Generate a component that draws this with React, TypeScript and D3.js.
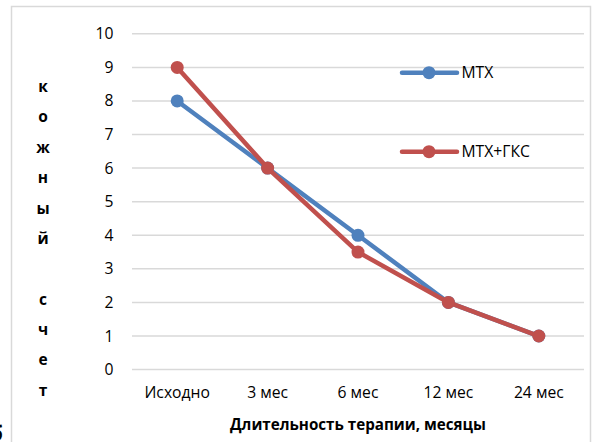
import React from "react";
import * as d3 from "d3";

const categories = ["Исходно", "3 мес", "6 мес", "12 мес", "24 мес"];
const mtx = [8, 6, 4, 2, 1];
const mtxGks = [9, 6, 3.5, 2, 1];
const yTicks = [0, 1, 2, 3, 4, 5, 6, 7, 8, 9, 10];
const yTitleChars = ["к", "о", "ж", "н", "ы", "й", "", "с", "ч", "е", "т"];
const seriesNames = ["МТХ", "МТХ+ГКС"];

const W = 597;
const H = 442;
const plot = { left: 132, right: 584, top: 33.8, bottom: 369.6 };
const FONT = "'Open Sans', 'Noto Sans', sans-serif";
const BLUE = "#4F81BD";
const RED = "#C0504D";

export default function App() {
  const x = d3.scaleBand<string>().domain(categories).range([plot.left, plot.right]);
  const y = d3.scaleLinear().domain([0, 10]).range([plot.bottom, plot.top]);
  const cx = (c: string) => (x(c) as number) + x.bandwidth() / 2;
  const line = d3
    .line<number>()
    .x((_, i) => cx(categories[i]))
    .y((d) => y(d));

  const series = [
    { name: seriesNames[0], values: mtx, color: BLUE, ly: 72.7 },
    { name: seriesNames[1], values: mtxGks, color: RED, ly: 151.7 },
  ];

  return (
    <svg
      width={W}
      height={H}
      style={{ position: "absolute", left: 0, top: 0, background: "#fff" }}
      fontFamily={FONT}
    >
      <rect x={0} y={0} width={W} height={H} fill="#fff" />
      <rect x={11.5} y={6.5} width={579} height={460} fill="none" stroke="#d9d9d9" strokeWidth={1.5} />
      {yTicks.map((t) => (
        <g key={t}>
          <line x1={plot.left} x2={plot.right} y1={y(t)} y2={y(t)} stroke="#d9d9d9" strokeWidth={1.5} />
          <text x={113.5} y={y(t)} dy="0.35em" textAnchor="end" fontSize={15.7} fill="#000">
            {t}
          </text>
        </g>
      ))}
      {categories.map((c) => (
        <text key={c} x={cx(c)} y={393} dy="0.35em" textAnchor="middle" fontSize={15.7} fill="#000">
          {c}
        </text>
      ))}
      <text x={(plot.left + plot.right) / 2} y={425} dy="0.35em" textAnchor="middle" fontSize={15.2} fontWeight="bold" fill="#000">
        Длительность терапии, месяцы
      </text>
      {yTitleChars.map((ch, i) => (
        <text key={i} x={43} y={86.7 + i * 30.35} dy="0.35em" textAnchor="middle" fontSize={15.5} fontWeight="bold" fill="#000">
          {ch}
        </text>
      ))}
      {series.map((s) => (
        <g key={s.name}>
          <path d={line(s.values) as string} fill="none" stroke={s.color} strokeWidth={4.5} strokeLinejoin="round" />
          {s.values.map((v, i) => (
            <circle key={i} cx={cx(categories[i])} cy={y(v)} r={6.5} fill={s.color} />
          ))}
        </g>
      ))}
      {series.map((s) => (
        <g key={"lg" + s.name}>
          <line x1={402} x2={457} y1={s.ly} y2={s.ly} stroke={s.color} strokeWidth={4.5} strokeLinecap="round" />
          <circle cx={429} cy={s.ly} r={6.5} fill={s.color} />
          <text x={461.5} y={s.ly} dy="0.35em" fontSize={15.7} fill="#000">
            {s.name}
          </text>
        </g>
      ))}
      <text x={3} y={441} textAnchor="end" fontSize={22} fontWeight="bold" fill="#000">
        б
      </text>
    </svg>
  );
}
